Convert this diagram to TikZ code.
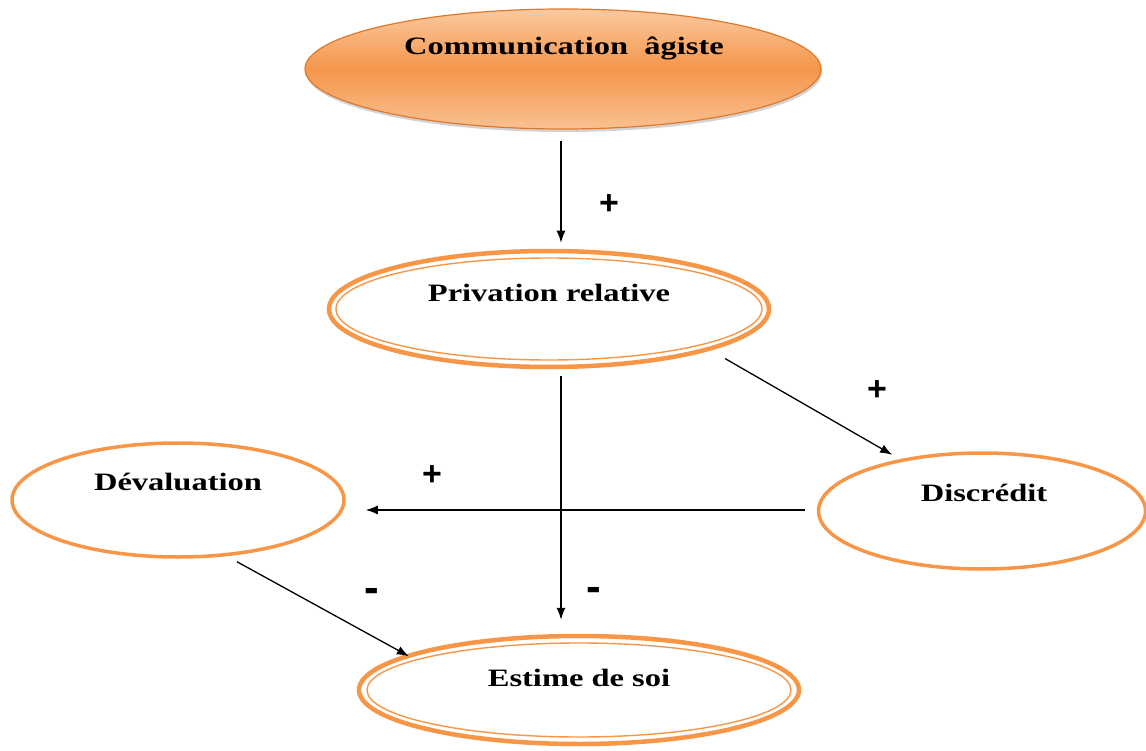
\documentclass[tikz,border=0pt]{standalone}
\usepackage{fontspec}
\setmainfont{Liberation Serif}[FakeStretch=1.3]
\newfontfamily\signfont{Liberation Sans}
\usetikzlibrary{shapes.geometric,arrows.meta,shadows,calc}
\definecolor{accent}{HTML}{F79646}
\definecolor{accdark}{HTML}{E0782A}
\definecolor{topc}{HTML}{FAC9A0}
\definecolor{midc}{HTML}{F5964A}
\definecolor{botc}{HTML}{F9C192}
\tikzset{
  oval/.style={ellipse, draw=accent, line width=3.5pt, inner sep=0pt},
  dbloval/.style={ellipse, draw=accent, line width=4.5pt, inner sep=0pt},
  lbl/.style={font=\fontsize{25}{29}\selectfont\bfseries, inner sep=0pt},
  sign/.style={font=\fontsize{34}{38}\signfont\bfseries, inner sep=0pt},
  minus/.style={font=\fontsize{44}{48}\signfont\bfseries, inner sep=0pt},
  arr/.style={-{Latex[length=12pt,width=9pt]}, line width=1.3pt, black}
}
\begin{document}
\begin{tikzpicture}[x=1pt,y=-1pt]
\useasboundingbox (0,0) rectangle (1146,751);
% top ellipse
\node[ellipse, minimum width=516pt, minimum height=120pt, inner sep=0pt,
      draw=accdark, line width=1.2pt,
      top color=topc, bottom color=botc, middle color=midc,
      drop shadow={opacity=0.35, shadow xshift=1pt, shadow yshift=-3pt}]
      (com) at (563,69) {};
\node[lbl] (comt) at (564,48) {Communication\ \ âgiste};
% privation
\node[dbloval, minimum width=440pt, minimum height=116pt] (priv) at (549,309) {};
\draw[accent, line width=1.4pt] (priv.center) ellipse [x radius=213, y radius=51];
\node[lbl] (privt) at (549,293) {Privation relative};
% devaluation
\node[oval, minimum width=332pt, minimum height=114pt] (dev) at (178,500) {};
\node[lbl] (devt) at (178,482) {Dévaluation};
% discredit
\node[oval, minimum width=327pt, minimum height=116pt] (disc) at (982,511) {};
\node[lbl] (disct) at (984,493) {Discrédit};
% estime
\node[dbloval, minimum width=440pt, minimum height=108pt] (est) at (579,690) {};
\draw[accent, line width=1.4pt] (est.center) ellipse [x radius=212, y radius=47];
\node[lbl] (estt) at (579,678) {Estime de soi};
% connectors
\draw[arr] ([shift={(-2,11)}]com.south) -- ([shift={(12,-6)}]priv.north);
\draw[arr] ([shift={(12,7)}]priv.south) -- ([shift={(-18,-14)}]est.north);
\draw[arr] ([shift={(19,7)}]priv.south east) -- ([shift={(27,-14)}]disc.north west);
\draw[arr] ([shift={(-12,-1)}]disc.west) -- ([shift={(20,10)}]dev.east);
\draw[arr] ([shift={(59,3)}]dev.south) -- ([shift={(-13,6)}]est.north west);
% signs
\node[sign] (p1) at (609,205) {+};
\node[sign] (p2) at (877,391) {+};
\node[sign] (p3) at (432,476) {+};
\node[minus] (m1) at (372,595) {-};
\node[minus] (m2) at (594,594) {-};
\end{tikzpicture}
\end{document}
